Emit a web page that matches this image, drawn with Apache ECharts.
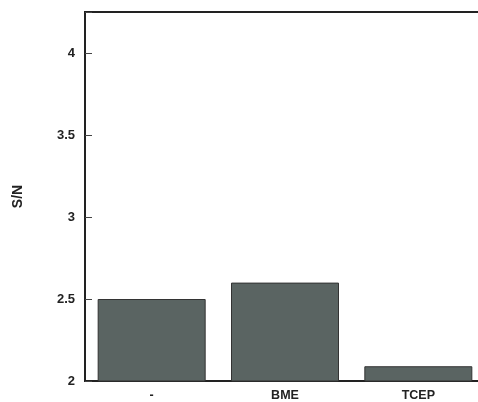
<!DOCTYPE html>
<html><head><meta charset="utf-8">
<script src="https://cdn.jsdelivr.net/npm/echarts@6/dist/echarts.min.js"></script>
<style>html,body{margin:0;padding:0;background:#fff;overflow:hidden;width:478px;height:402px}#c{width:492px;height:402px}</style>
</head><body><div id="c"></div>
<script>
const categories = ['-', 'BME', 'TCEP'];
const values = [2.5, 2.6, 2.09];
const yTicks = [2, 2.5, 3, 3.5, 4];

const chart = echarts.init(document.getElementById('c'), null, {renderer: 'canvas'});
const font = 'Liberation Sans, Arial, sans-serif';
chart.setOption({
  animation: false,
  grid: {left: 85, right: 7, top: 12, bottom: 21, show: true, borderColor: '#222', borderWidth: 2, backgroundColor: 'transparent'},
  xAxis: {
    type: 'category', data: categories,
    axisLine: {lineStyle: {color: '#222', width: 2}},
    axisTick: {show: false},
    axisLabel: {color: '#222', fontWeight: 'bold', fontSize: 12.5, fontFamily: font, margin: 8}
  },
  yAxis: {
    type: 'value', min: 2, max: 4.25, interval: 0.5,
    name: 'S/N', nameLocation: 'middle', nameGap: 60,
    nameTextStyle: {color: '#222', fontWeight: 'bold', fontSize: 14, fontFamily: font},
    axisLine: {show: true, lineStyle: {color: '#222', width: 2}},
    axisTick: {show: true, inside: true, length: 7, lineStyle: {color: '#444', width: 1}},
    splitLine: {show: false},
    axisLabel: {color: '#222', fontWeight: 'bold', fontSize: 13, fontFamily: font, margin: 10,
      formatter: v => yTicks.includes(v) ? String(v) : ''}
  },
  series: [{
    type: 'bar', data: values, barWidth: '81%',
    itemStyle: {color: '#5a6462', borderColor: '#333', borderWidth: 1}
  }]
});
</script></body></html>
